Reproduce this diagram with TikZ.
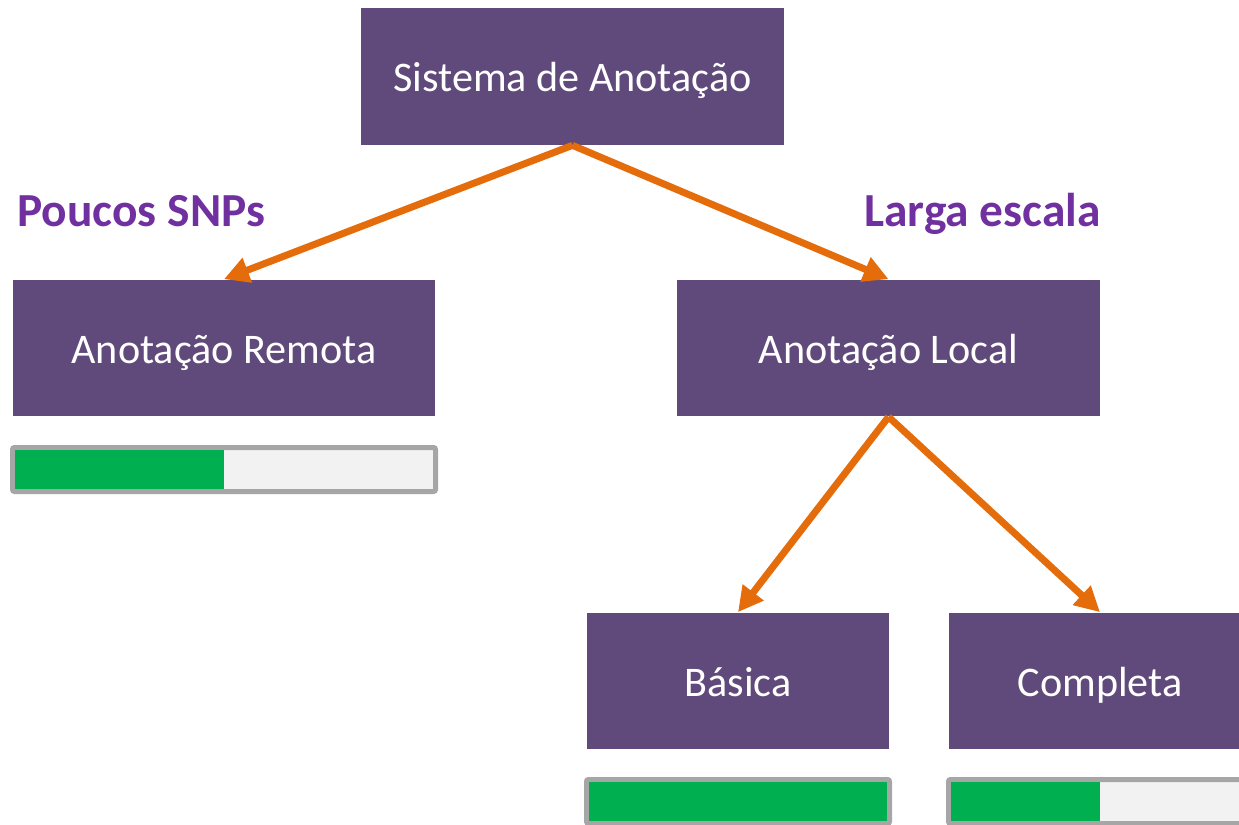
\documentclass[tikz,border=0pt]{standalone}
\usepackage{fontspec}
\setmainfont{Carlito}
\usetikzlibrary{arrows.meta}

\definecolor{roxo}{HTML}{604A7B}
\definecolor{laranja}{HTML}{E46C0A}
\definecolor{violeta}{HTML}{7030A0}
\definecolor{verde}{HTML}{00B050}
\definecolor{cinza}{HTML}{A6A6A6}
\definecolor{fundo}{HTML}{F2F2F2}

\tikzset{
    boite/.style={rectangle, fill=roxo, text=white, minimum width=8.46cm, minimum height=2.74cm, inner sep=0pt, text height=0.8cm, text depth=0.2cm, font=\fontsize{24}{28}\selectfont},
    petite/.style={boite, minimum width=6.04cm},
    etiquette/.style={text=violeta, inner sep=0pt, text height=0.68cm, text depth=0.2cm, font=\fontsize{27}{32}\selectfont\bfseries},
    fleche/.style={draw=laranja, line width=0.14cm, -{Triangle[length=0.5cm, width=0.5cm]}}
}

\begin{document}
\begin{tikzpicture}[x=0.02cm, y=-0.02cm]

            \useasboundingbox (0,0) rectangle (1239,824);

            % Boîtes du système
            \node[boite] (sys) at (572.5,76.5) {Sistema de Anotação};
            \node[boite] (rem) at (224,348) {Anotação Remota};
            \node[boite] (loc) at (888.5,348) {Anotação Local};
            \node[petite] (bas) at (738,681) {Básica};
            \node[petite] (com) at (1100,681) {Completa};

            % Étiquettes des branches
            \node[etiquette, anchor=west] (pou) at (17,215) {Poucos SNPs};
            \node[etiquette, anchor=east] (lar) at (1101,215) {Larga escala};

            % Flèches
            \draw[fleche] (sys.south) -- (rem.north);
            \draw[fleche] (sys.south) -- (loc.north);
            \draw[fleche] (loc.south) -- (bas.north);
            \draw[fleche] (loc.south) -- (com.north);

            % Barres de progression
            \foreach \x/\y/\w/\f in {10/445/428/0.5, 584/777/308/1, 946/777/308/0.5} {
                \draw[cinza, fill=fundo, line width=0.1cm, rounded corners=0.04cm] (\x+2.5,\y+2.5) rectangle (\x+\w-2.5,\y+46.5);
                \fill[verde] (\x+5,\y+5) rectangle ({\x+5+\f*(\w-10)},\y+44);
            }

\end{tikzpicture}
\end{document}
